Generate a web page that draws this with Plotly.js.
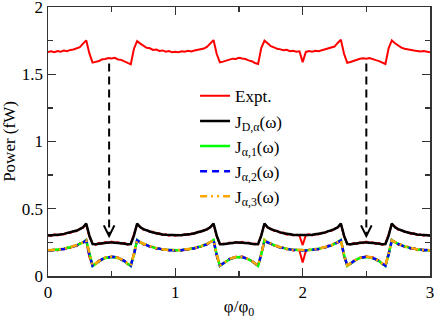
<!DOCTYPE html>
<html>
<head>
<meta charset="utf-8">
<script src="https://cdn.plot.ly/plotly-3.0.1.min.js"></script>
<style>html,body{margin:0;padding:0;background:#fff;}#chart{width:436px;height:319px;}</style>
</head>
<body>
<div id="chart"></div>
<script>
// x grid: phi/phi0 from 0 to 3, step 0.025 (121 points)
const phi = Array.from({length: 121}, (_, i) => +(i * 0.025).toFixed(3));

// Experimental data (upper curve)
const exptTop = [
  1.665,1.671,1.664,1.673,1.668,1.676,1.672,1.681,1.684,1.693,1.702,1.728,1.752,1.655,1.586,1.592,1.598,1.611,1.613,1.621,1.617,1.622,1.610,1.607,1.594,1.586,1.574,1.690,1.746,1.728,1.712,1.697,1.693,1.681,1.684,1.673,1.677,1.668,1.672,1.663,1.668,
  1.664,1.671,1.667,1.674,1.669,1.677,1.680,1.686,1.691,1.705,1.731,1.754,1.650,1.588,1.594,1.601,1.607,1.616,1.614,1.622,1.617,1.613,1.603,1.597,1.584,1.577,1.695,1.750,1.731,1.709,1.700,1.689,1.685,1.678,1.682,1.672,1.675,1.668,1.671,1.590,
  1.666,1.672,1.668,1.675,1.671,1.678,1.682,1.687,1.694,1.706,1.733,1.756,1.652,1.585,1.591,1.600,1.606,1.615,1.619,1.616,1.621,1.611,1.605,1.598,1.585,1.576,1.693,1.752,1.730,1.711,1.698,1.690,1.684,1.679,1.676,1.673,1.669,1.672,1.665,1.663
];
// Experimental data (lower curves)
const exptMid = [
  0.305,0.298,0.309,0.301,0.312,0.309,0.322,0.320,0.334,0.333,0.352,0.358,0.385,0.290,0.243,0.232,0.246,0.240,0.252,0.245,0.256,0.247,0.251,0.240,0.246,0.233,0.241,0.310,0.383,0.366,0.343,0.342,0.327,0.329,0.314,0.317,0.305,0.310,0.300,0.307,0.299,
  0.306,0.301,0.310,0.305,0.316,0.314,0.328,0.327,0.342,0.345,0.366,0.384,0.295,0.235,0.241,0.236,0.249,0.243,0.253,0.246,0.254,0.243,0.248,0.237,0.242,0.236,0.305,0.388,0.359,0.352,0.335,0.336,0.320,0.323,0.308,0.313,0.301,0.307,0.299,0.230,
  0.304,0.310,0.301,0.313,0.308,0.321,0.319,0.335,0.334,0.352,0.360,0.386,0.292,0.242,0.233,0.245,0.239,0.251,0.244,0.255,0.246,0.250,0.239,0.245,0.232,0.242,0.308,0.384,0.367,0.344,0.341,0.328,0.328,0.313,0.318,0.304,0.309,0.300,0.306,0.298
];
const exptLow = [
  0.194,0.186,0.197,0.190,0.202,0.197,0.211,0.208,0.225,0.222,0.243,0.246,0.262,0.140,0.080,0.088,0.115,0.119,0.139,0.135,0.147,0.137,0.139,0.119,0.114,0.087,0.082,0.175,0.262,0.254,0.233,0.232,0.215,0.218,0.202,0.206,0.193,0.199,0.188,0.195,0.187,
  0.195,0.189,0.199,0.194,0.206,0.203,0.217,0.216,0.232,0.234,0.254,0.264,0.145,0.079,0.096,0.107,0.128,0.130,0.144,0.137,0.146,0.136,0.128,0.113,0.096,0.080,0.170,0.264,0.246,0.241,0.224,0.224,0.209,0.211,0.197,0.201,0.189,0.196,0.188,0.100,
  0.186,0.197,0.191,0.203,0.198,0.212,0.209,0.226,0.223,0.244,0.247,0.263,0.142,0.081,0.089,0.114,0.120,0.138,0.136,0.148,0.136,0.140,0.118,0.115,0.086,0.083,0.172,0.263,0.255,0.232,0.233,0.214,0.219,0.201,0.207,0.192,0.200,0.187,0.196,0.186
];
// Theory J_D,alpha
const jD = [
  0.302,0.303,0.304,0.306,0.309,0.313,0.318,0.324,0.331,0.338,0.348,0.362,0.390,0.300,0.238,0.236,0.240,0.244,0.247,0.249,0.250,0.249,0.247,0.244,0.240,0.236,0.238,0.300,0.390,0.362,0.348,0.338,0.331,0.324,0.318,0.313,0.309,0.306,0.304,0.303,0.302,
  0.303,0.304,0.306,0.309,0.313,0.318,0.324,0.331,0.338,0.348,0.362,0.390,0.300,0.238,0.236,0.240,0.244,0.247,0.249,0.250,0.249,0.247,0.244,0.240,0.236,0.238,0.300,0.390,0.362,0.348,0.338,0.331,0.324,0.318,0.313,0.309,0.306,0.304,0.303,0.302,
  0.303,0.304,0.306,0.309,0.313,0.318,0.324,0.331,0.338,0.348,0.362,0.390,0.300,0.238,0.236,0.240,0.244,0.247,0.249,0.250,0.249,0.247,0.244,0.240,0.236,0.238,0.300,0.390,0.362,0.348,0.338,0.331,0.324,0.318,0.313,0.309,0.306,0.304,0.303,0.302
];
// Theory J_alpha,1
const j1 = [
  0.190,0.191,0.193,0.195,0.198,0.202,0.207,0.213,0.220,0.228,0.238,0.250,0.268,0.160,0.075,0.092,0.110,0.124,0.134,0.140,0.142,0.140,0.134,0.124,0.110,0.092,0.075,0.160,0.268,0.250,0.238,0.228,0.220,0.213,0.207,0.202,0.198,0.195,0.193,0.191,0.190,
  0.191,0.193,0.195,0.198,0.202,0.207,0.213,0.220,0.228,0.238,0.250,0.268,0.160,0.075,0.092,0.110,0.124,0.134,0.140,0.142,0.140,0.134,0.124,0.110,0.092,0.075,0.160,0.268,0.250,0.238,0.228,0.220,0.213,0.207,0.202,0.198,0.195,0.193,0.191,0.190,
  0.191,0.193,0.195,0.198,0.202,0.207,0.213,0.220,0.228,0.238,0.250,0.268,0.160,0.075,0.092,0.110,0.124,0.134,0.140,0.142,0.140,0.134,0.124,0.110,0.092,0.075,0.160,0.268,0.250,0.238,0.228,0.220,0.213,0.207,0.202,0.198,0.195,0.193,0.191,0.190
];
// Theory J_alpha,2
const j2 = [
  0.189,0.190,0.192,0.195,0.198,0.201,0.206,0.212,0.219,0.228,0.237,0.249,0.265,0.158,0.077,0.093,0.111,0.125,0.135,0.141,0.143,0.141,0.135,0.125,0.111,0.093,0.077,0.158,0.265,0.249,0.237,0.228,0.219,0.212,0.206,0.201,0.198,0.195,0.192,0.190,0.189,
  0.190,0.192,0.195,0.198,0.201,0.206,0.212,0.219,0.228,0.237,0.249,0.265,0.158,0.077,0.093,0.111,0.125,0.135,0.141,0.143,0.141,0.135,0.125,0.111,0.093,0.077,0.158,0.265,0.249,0.237,0.228,0.219,0.212,0.206,0.201,0.198,0.195,0.192,0.190,0.189,
  0.190,0.192,0.195,0.198,0.201,0.206,0.212,0.219,0.228,0.237,0.249,0.265,0.158,0.077,0.093,0.111,0.125,0.135,0.141,0.143,0.141,0.135,0.125,0.111,0.093,0.077,0.158,0.265,0.249,0.237,0.228,0.219,0.212,0.206,0.201,0.198,0.195,0.192,0.190,0.189
];
// Theory J_alpha,3
const j3 = [
  0.191,0.192,0.194,0.196,0.199,0.203,0.208,0.214,0.221,0.229,0.239,0.251,0.266,0.162,0.078,0.094,0.112,0.126,0.136,0.141,0.144,0.141,0.136,0.126,0.112,0.094,0.078,0.162,0.266,0.251,0.239,0.229,0.221,0.214,0.208,0.203,0.199,0.196,0.194,0.192,0.191,
  0.192,0.194,0.196,0.199,0.203,0.208,0.214,0.221,0.229,0.239,0.251,0.266,0.162,0.078,0.094,0.112,0.126,0.136,0.141,0.144,0.141,0.136,0.126,0.112,0.094,0.078,0.162,0.266,0.251,0.239,0.229,0.221,0.214,0.208,0.203,0.199,0.196,0.194,0.192,0.191,
  0.192,0.194,0.196,0.199,0.203,0.208,0.214,0.221,0.229,0.239,0.251,0.266,0.162,0.078,0.094,0.112,0.126,0.136,0.141,0.144,0.141,0.136,0.126,0.112,0.094,0.078,0.162,0.266,0.251,0.239,0.229,0.221,0.214,0.208,0.203,0.199,0.196,0.194,0.192,0.191
];

const seriesNames = ['Expt.', 'J<sub>D,α</sub>(ω)', 'J<sub>α,1</sub>(ω)', 'J<sub>α,2</sub>(ω)', 'J<sub>α,3</sub>(ω)'];
const arrowX = [0.48, 2.5];
const arrowFrom = 1.58;
const arrowTo = 0.28;

const FONT = 'Liberation Serif';

const traces = [
  {x: phi, y: exptTop, mode: 'lines', name: seriesNames[0], legendgroup: 'e', line: {color: '#ff0000', width: 2}},
  {x: phi, y: exptMid, mode: 'lines', name: seriesNames[0], legendgroup: 'e', showlegend: false, line: {color: '#ff0000', width: 2}},
  {x: phi, y: exptLow, mode: 'lines', name: seriesNames[0], legendgroup: 'e', showlegend: false, line: {color: '#ff0000', width: 2}},
  {x: phi, y: jD, mode: 'lines', name: seriesNames[1], line: {color: '#000000', width: 2.5}},
  {x: phi, y: j1, mode: 'lines', name: seriesNames[2], line: {color: '#00ff00', width: 2.5}},
  {x: phi, y: j2, mode: 'lines', name: seriesNames[3], line: {color: '#0000ff', width: 2.5, dash: '7px,5px'}},
  {x: phi, y: j3, mode: 'lines', name: seriesNames[4], line: {color: '#ffa500', width: 2.5, dash: '7px,4px,2px,4px,2px,4px'}}
];

const axisCommon = {
  ticks: 'inside', ticklen: 8, tickwidth: 1.3, tickcolor: '#333',
  showline: true, linecolor: '#333', linewidth: 1.5, mirror: 'ticks',
  showgrid: false, zeroline: false, ticklabeloverflow: 'allow',
  tickfont: {family: FONT, size: 17, color: '#000'}
};

const layout = {
  width: 436, height: 319,
  margin: {l: 48, r: 6, t: 7, b: 43},
  paper_bgcolor: '#fff', plot_bgcolor: '#fff',
  font: {family: FONT, size: 17, color: '#000'},
  showlegend: true,
  legend: {x: 0.385, y: 0.735, xanchor: 'left', yanchor: 'top', bgcolor: 'rgba(0,0,0,0)',
           tracegroupgap: 0, traceorder: 'normal',
           font: {family: FONT, size: 17, color: '#000'}},
  xaxis: Object.assign({}, axisCommon, {
    range: [0, 3], dtick: 1, tick0: 0,
    minor: {dtick: 0.5, ticks: 'inside', ticklen: 5, tickcolor: '#333', tickwidth: 1.3, showgrid: false},
    title: {text: 'φ/φ<sub>0</sub>', font: {family: FONT, size: 17, color: '#000'}, standoff: 4}
  }),
  yaxis: Object.assign({}, axisCommon, {
    range: [0, 2], dtick: 0.5, tick0: 0,
    minor: {dtick: 0.25, ticks: 'inside', ticklen: 5, tickcolor: '#333', tickwidth: 1.3, showgrid: false},
    title: {text: 'Power (fW)', font: {family: FONT, size: 17, color: '#000'}, standoff: 4}
  }),
  shapes: arrowX.map(x => ({type: 'line', xref: 'x', yref: 'y', x0: x, x1: x, y0: arrowFrom, y1: arrowTo + 0.02,
    line: {color: '#000', width: 2, dash: '8px,5px'}})),
  annotations: arrowX.map(x => ({xref: 'x', yref: 'y', axref: 'x', ayref: 'y', x: x, y: arrowTo, ax: x, ay: arrowTo + 0.06,
    text: '', showarrow: true, arrowhead: 5, arrowsize: 1.3, arrowwidth: 1.6, arrowcolor: '#000'}))
};

Plotly.newPlot('chart', traces, layout, {staticPlot: true, displayModeBar: false});
</script>
</body>
</html>
